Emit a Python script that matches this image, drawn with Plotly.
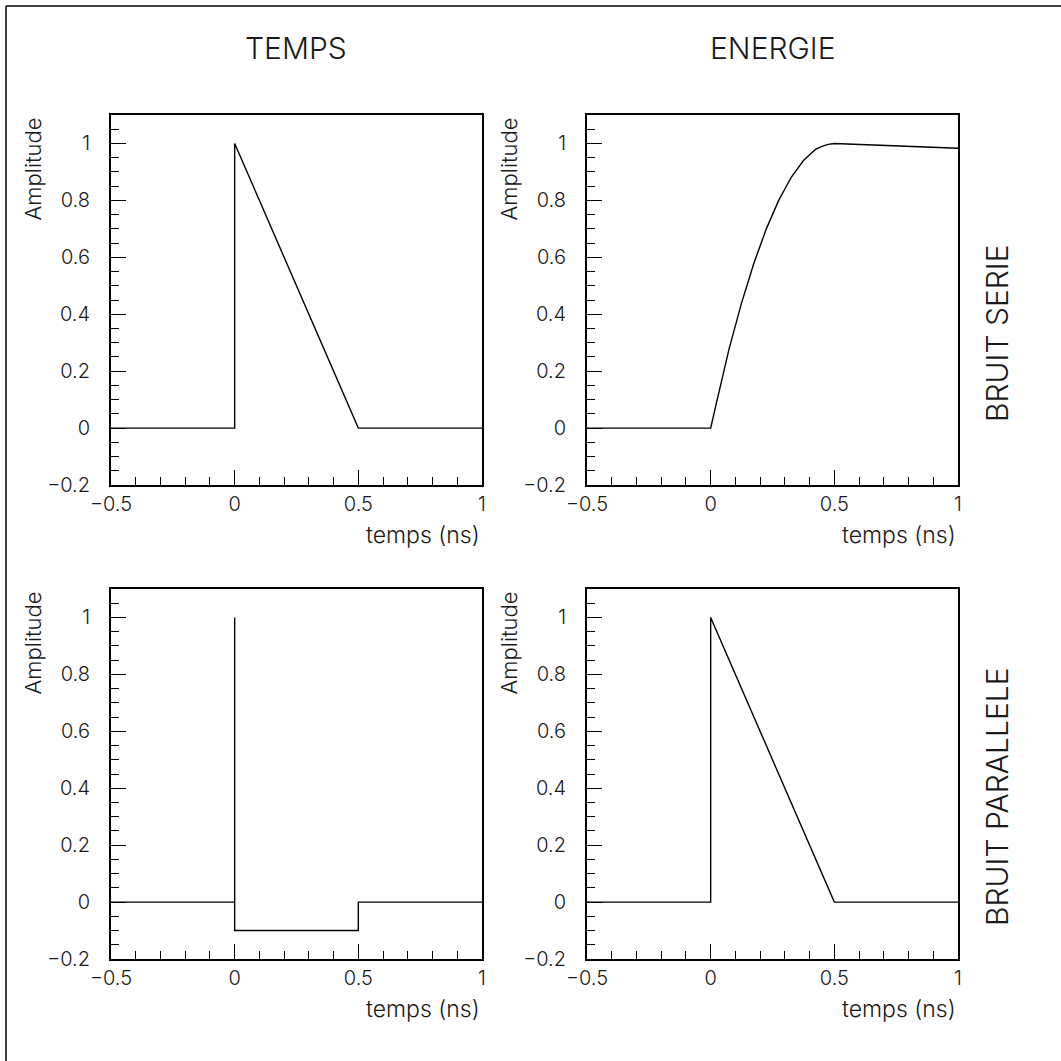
import plotly.graph_objects as go

# ---- data ----
temps_serie_x = [-0.5, 0.0, 0.0, 0.5, 1.0]
temps_serie_y = [0.0, 0.0, 1.0, 0.0, 0.0]

energie_serie_x = [-0.5, 0.0, 0.025, 0.05, 0.075, 0.1, 0.125, 0.15, 0.175, 0.2, 0.225,
                   0.25, 0.275, 0.3, 0.325, 0.35, 0.375, 0.4, 0.425, 0.45, 0.475, 0.5, 1.0]
energie_serie_y = [0.0, 0.0, 0.095, 0.19, 0.28, 0.36, 0.44, 0.51, 0.58, 0.64, 0.70,
                   0.75, 0.80, 0.84, 0.88, 0.91, 0.94, 0.96, 0.98, 0.99, 0.997, 1.0, 0.983]

temps_para_x = [-0.5, 0.0, 0.0, 0.0, 0.5, 0.5, 1.0]
temps_para_y = [0.0, 0.0, 1.0, -0.1, -0.1, 0.0, 0.0]

energie_para_x = [-0.5, 0.0, 0.0, 0.5, 1.0]
energie_para_y = [0.0, 0.0, 1.0, 0.0, 0.0]

col_titles = ["TEMPS", "ENERGIE"]
row_titles = ["BRUIT SERIE", "BRUIT PARALLELE"]
x_title = "temps (ns)"
y_title = "Amplitude"

W = H = 1061
FONT = "Inter"
FW = 300
FC = "#1a1a1a"

def px(x):
    return x / W

def py(y):
    return 1 - y / H

def font(size):
    return dict(family=FONT, size=size, color=FC, weight=FW)

# plot boxes in pixels (left, right, top, bottom)
boxes = [
    (111, 482, 115, 485),
    (587, 958, 115, 485),
    (111, 482, 589, 959),
    (587, 958, 589, 959),
]
series = [
    (temps_serie_x, temps_serie_y),
    (energie_serie_x, energie_serie_y),
    (temps_para_x, temps_para_y),
    (energie_para_x, energie_para_y),
]

fig = go.Figure()
layout = dict(
    width=W, height=H, margin=dict(l=0, r=0, t=0, b=0, autoexpand=False),
    paper_bgcolor="white", plot_bgcolor="white", showlegend=False,
    font=font(20),
)

annotations = []
for i, ((l, r, t, b), (sx, sy)) in enumerate(zip(boxes, series)):
    n = "" if i == 0 else str(i + 1)
    fig.add_trace(go.Scatter(x=sx, y=sy, mode="lines",
                             line=dict(color="black", width=1.4),
                             xaxis="x" + n, yaxis="y" + n, hoverinfo="skip"))
    layout["xaxis" + n] = dict(
        domain=[px(l), px(r)], anchor="y" + n, range=[-0.5, 1.0],
        tick0=0, dtick=0.5, ticks="inside", ticklen=15, tickwidth=1.3,
        tickcolor="black", showline=True, linecolor="black", linewidth=2,
        mirror=True, showgrid=False, zeroline=False, automargin=False,
        ticklabelstandoff=0, tickfont=font(20),
        minor=dict(ticks="inside", ticklen=8, dtick=0.1, tick0=0,
                   tickwidth=1.3, tickcolor="black", showgrid=False),
    )
    layout["yaxis" + n] = dict(
        domain=[py(b), py(t)], anchor="x" + n, range=[-0.2, 1.1],
        tick0=0, dtick=0.2, ticks="inside", ticklen=15, tickwidth=1.3,
        tickcolor="black", showline=True, linecolor="black", linewidth=2,
        mirror=True, showgrid=False, zeroline=False, automargin=False,
        ticklabelstandoff=15, tickfont=font(20),
        minor=dict(ticks="inside", ticklen=8, dtick=0.05, tick0=0,
                   tickwidth=1.3, tickcolor="black", showgrid=False),
    )
    annotations.append(dict(text=x_title, xref="paper", yref="paper",
                            x=px(r), y=py(b + 50), xanchor="right", yanchor="middle",
                            showarrow=False, font=font(23)))
    annotations.append(dict(text=y_title, xref="paper", yref="paper",
                            x=px(l - 79), y=py(t + 1), xanchor="center", yanchor="top",
                            textangle=-90, showarrow=False, font=font(22)))

for txt, xc in zip(col_titles, [296, 773]):
    annotations.append(dict(text=txt, xref="paper", yref="paper",
                            x=px(xc), y=py(48), xanchor="center", yanchor="middle",
                            showarrow=False, font=font(30)))
for txt, yc in zip(row_titles, [333, 797]):
    annotations.append(dict(text=txt, xref="paper", yref="paper",
                            x=px(997), y=py(yc), xanchor="center", yanchor="middle",
                            textangle=-90, showarrow=False, font=font(30)))

layout["annotations"] = annotations
layout["shapes"] = [
    dict(type="line", xref="paper", yref="paper", x0=px(6), x1=px(6), y0=0, y1=py(6),
         line=dict(color="black", width=1.5)),
    dict(type="line", xref="paper", yref="paper", x0=px(6), x1=1, y0=py(6), y1=py(6),
         line=dict(color="black", width=1.5)),
]

fig.update_layout(**layout)
fig.write_html("out.html")
